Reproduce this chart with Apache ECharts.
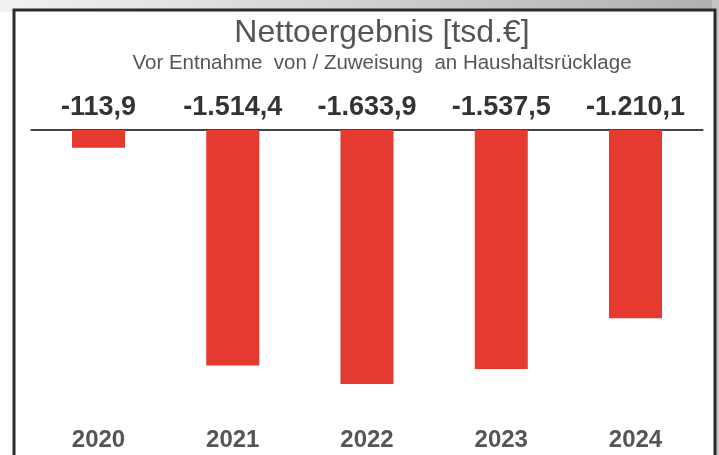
<!DOCTYPE html>
<html>
<head>
<meta charset="utf-8">
<script src="https://cdn.jsdelivr.net/npm/echarts@6/dist/echarts.min.js"></script>
<style>
  html, body { margin: 0; padding: 0; background: #fff; }
  #chart { width: 719px; height: 455px; }
</style>
</head>
<body>
<div id="chart"></div>
<script>
// Nettoergebnis in tsd. €
const years = ["2020", "2021", "2022", "2023", "2024"];
const values = [-113.9, -1514.4, -1633.9, -1537.5, -1210.1];
const titleText = "Nettoergebnis [tsd.€]";
const subText = "Vor Entnahme  von / Zuweisung  an Haushaltsrücklage";

const FONT = "'Liberation Sans', Arial, sans-serif";

// deutsches Zahlenformat: -1.514,4
function fmt(v) {
  const parts = Math.abs(v).toFixed(1).split(".");
  const intPart = parts[0].replace(/\B(?=(\d{3})+(?!\d))/g, ".");
  return (v < 0 ? "-" : "") + intPart + "," + parts[1];
}

const chart = echarts.init(document.getElementById("chart"));
const option = {
  animation: false,
  grid: { left: 31.4, right: 16.4, top: 130, bottom: 29.5 },
  graphic: [
    {
      type: "rect", z: -10, silent: true,
      shape: { x: 0, y: 0, width: 719, height: 12 },
      style: {
        fill: new echarts.graphic.LinearGradient(0, 0, 1, 0, [
          { offset: 0, color: "#f2f2f2" },
          { offset: 1, color: "#b0b0b0" }
        ])
      }
    },
    {
      type: "rect", z: -10, silent: true,
      shape: { x: 712, y: 0, width: 7, height: 455 },
      style: { fill: "#c4c4c4" }
    },
    {
      type: "rect", z: -5, silent: true,
      shape: { x: 14, y: 10, width: 701, height: 470 },
      style: { fill: "#fff", stroke: "#2b2b2b", lineWidth: 3 }
    },
    {
      type: "text", x: 382, y: 33,
      style: {
        text: titleText, fill: "#555", font: "32px " + FONT,
        textAlign: "center", textVerticalAlign: "middle"
      }
    },
    {
      type: "text", x: 382, y: 63,
      style: {
        text: subText, fill: "#555", font: "20.5px " + FONT,
        textAlign: "center", textVerticalAlign: "middle"
      }
    }
  ],
  xAxis: [
    {
      type: "category",
      data: years,
      position: "top",
      axisLine: { onZero: false, lineStyle: { color: "#444", width: 2 } },
      axisTick: { show: false },
      axisLabel: {
        margin: 9,
        color: "#333",
        fontSize: 27,
        fontWeight: "bold",
        fontFamily: FONT,
        formatter: (v, i) => fmt(values[i])
      }
    },
    {
      type: "category",
      data: years,
      position: "bottom",
      axisLine: { show: false, onZero: false },
      axisTick: { show: false },
      axisLabel: {
        margin: 3,
        color: "#555",
        fontSize: 24,
        fontWeight: "bold",
        fontFamily: FONT
      }
    }
  ],
  yAxis: {
    type: "value",
    min: -1900,
    max: 0,
    show: false,
    splitLine: { show: false }
  },
  series: [
    {
      type: "bar",
      xAxisIndex: 0,
      data: values,
      barWidth: "39.5%",
      itemStyle: { color: "#e53a2f" }
    }
  ]
};
chart.setOption(option);
</script>
</body>
</html>
